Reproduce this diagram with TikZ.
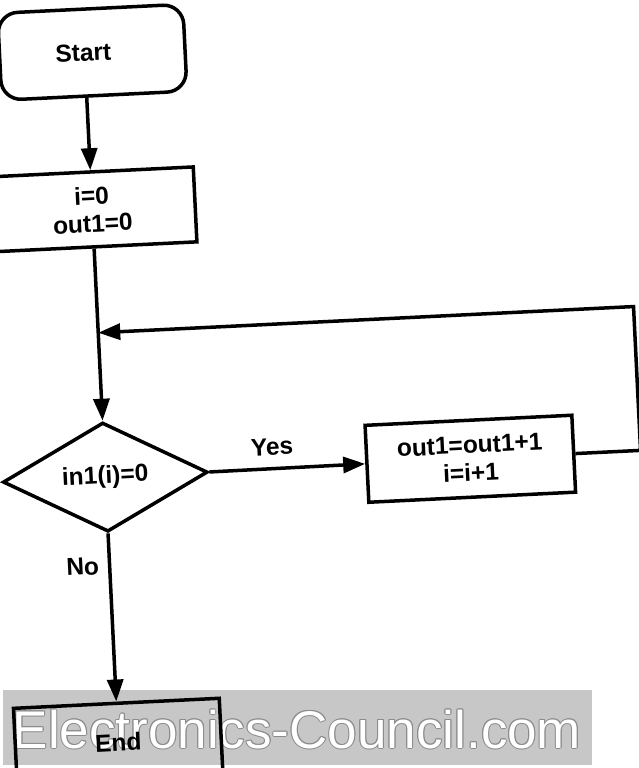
\documentclass[tikz,border=0pt]{standalone}
\usepackage{fontspec}
\setmainfont{Liberation Sans}
\usetikzlibrary{shapes.geometric,arrows.meta}
\definecolor{wmfill}{gray}{0.78}
\definecolor{wmedge}{gray}{0.55}
\tikzset{
  fc/.style={draw=black, line width=3.5pt, align=center, inner sep=0pt,
    font=\fontsize{24.5}{28}\selectfont\bfseries},
  lbl/.style={inner sep=0pt, font=\fontsize{24.5}{28}\selectfont\bfseries},
  conn/.style={line width=3.5pt, draw=black, line join=miter},
  arr/.style={conn, -{Triangle[length=22pt,width=16pt]}},
  wmtext/.style={anchor=base, inner sep=0pt, font=\fontsize{53}{53}\selectfont}
}
\begin{document}
\begin{tikzpicture}[x=1pt,y=-1pt]
\useasboundingbox (0,0) rectangle (639,768);
\clip (0,0) rectangle (639,768);
\fill[white] (0,0) rectangle (639,768);
% watermark band with outlined white lettering
\fill[wmfill] (3,690) rectangle (592,765);
\foreach \dx/\dy [count=\k] in {1/0,-1/0,0/1,0/-1,0.8/0.8,-0.8/0.8,0.8/-0.8,-0.8/-0.8}
  \node[wmtext, text=wmedge] (wmo\k) at (297+\dx,748+\dy) {Electronics-Council.com};
\node[wmtext, text=white] (wm) at (297,748) {Electronics-Council.com};
% flowchart (slightly rotated as in the reference)
\begin{scope}[rotate around={2.8:(320,384)}, transform shape]
  \node[fc, rectangle, rounded corners=20pt, minimum width=185.5pt, minimum height=87pt]
    (start) at (108.75,41.5) {\hspace*{-18pt}Start};
  \node[fc, rectangle, minimum width=206pt, minimum height=75pt]
    (init) at (101,198.5) {i=0\\out1=0};
  \node[fc, diamond, minimum width=205pt, minimum height=101pt]
    (dec) at (101,466.5) {in1(i)=0};
  \node[fc, rectangle, minimum width=207pt, minimum height=77pt]
    (upd) at (466.5,466) {out1=out1+1\\i=i+1};
  \node[fc, rectangle, minimum width=206pt, minimum height=78pt]
    (end) at (101,732) {End};
  \coordinate (corner) at (637,322);
  \coordinate (join) at (101,322);
  \node[lbl] (yes) at (269,444.6) {Yes};
  \node[lbl] (no) at (74,555) {No};
  \draw[arr] (init.north |- start.south) -- (init.north);
  \draw[arr] (init.south) -- (dec.north);
  \draw[arr] (dec.east) -- (upd.west);
  \draw[arr] (upd.east) -- (upd.east -| corner) -- (corner) -- (join);
  \draw[arr] (dec.south) -- (end.north);
\end{scope}
\end{tikzpicture}
\end{document}
